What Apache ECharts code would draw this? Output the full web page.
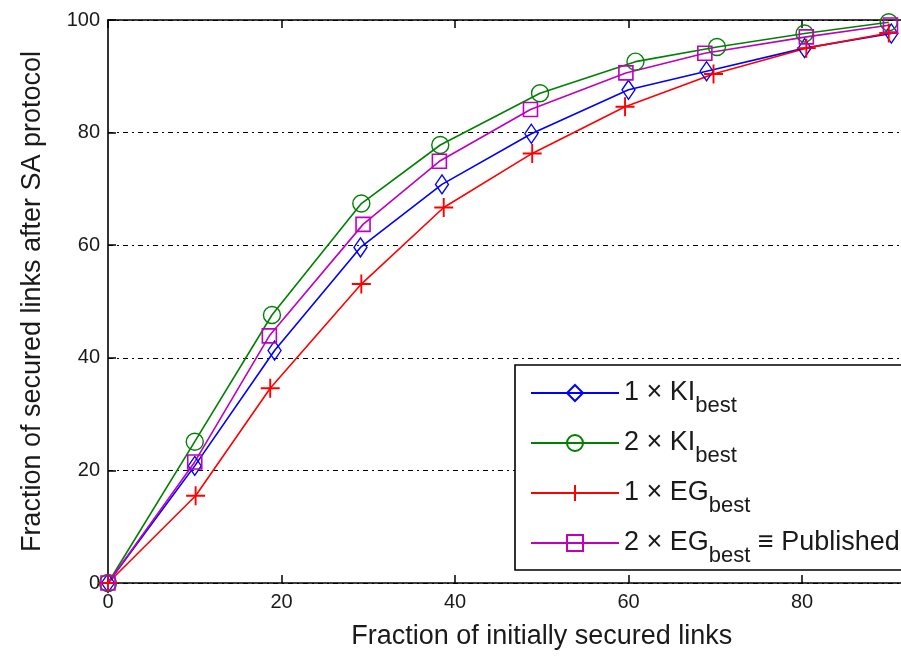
<!DOCTYPE html>
<html>
<head>
<meta charset="utf-8">
<script src="https://cdn.jsdelivr.net/npm/echarts@6/dist/echarts.min.js"></script>
<style>html,body{margin:0;padding:0;background:#fff;}#c{width:901px;height:657px;}</style>
</head>
<body>
<div id="c"></div>
<script>
// ---- data ----
const xTicks = [0, 20, 40, 60, 80, 100];
const yTicks = [0, 20, 40, 60, 80, 100];
const seriesNames = ['1 × KI_best', '2 × KI_best', '1 × EG_best', '2 × EG_best ≡ Published'];
const xKI1 = [0, 10, 19.2, 29.1, 38.5, 48.8, 60, 69, 80.3, 90.3];
const yKI1 = [0, 20.8, 41.3, 59.6, 70.8, 79.8, 87.6, 90.9, 95.0, 97.6];
const xKI2 = [0, 10, 18.9, 29.2, 38.3, 49.8, 60.8, 70.2, 80.3, 90];
const yKI2 = [0, 25.1, 47.6, 67.4, 77.8, 87.0, 92.6, 95.2, 97.6, 99.6];
const xEG1 = [0, 10.1, 18.7, 29.2, 38.7, 48.9, 59.6, 69.8, 80.5, 90];
const yEG1 = [0, 15.5, 34.6, 53.1, 66.7, 76.3, 84.6, 90.4, 95.0, 97.7];
const xEG2 = [0, 10, 18.6, 29.4, 38.2, 48.7, 59.7, 68.8, 80.5, 90.2];
const yEG2 = [0, 21.5, 43.9, 63.7, 74.9, 84.1, 90.6, 94.1, 97.0, 99.1];

const FONT = "'Liberation Sans', Arial, sans-serif";
const TXT = '#1a1a1a';
const pair = (xs, ys) => xs.map((x, i) => [x, ys[i]]);

function mk(name, xs, ys, color, symbol, size, bw) {
  return {
    name: name, type: 'line', data: pair(xs, ys),
    symbol: symbol, symbolSize: size, showSymbol: true, clip: false,
    lineStyle: {color: color, width: 1.6},
    itemStyle: {color: 'rgba(0,0,0,0)', borderColor: color, borderWidth: bw},
    emphasis: {disabled: true}, silent: true, animation: false, z: 3
  };
}

const chart = echarts.init(document.getElementById('c'), null, {renderer: 'canvas'});
const axisLine = {show: true, lineStyle: {color: '#000', width: 1.6}};
const tick = {show: true, inside: true, length: 8, lineStyle: {color: '#000', width: 1.5}};
chart.setOption({
  animation: false,
  backgroundColor: '#fff',
  grid: {left: 108, top: 20, bottom: 74, right: -74.5, containLabel: false, outerBoundsMode: 'none'},
  graphic: [{
    type: 'rect', z: 3.5, silent: true,
    shape: {x: 515, y: 365, width: 520, height: 205},
    style: {fill: '#fff', stroke: '#000', lineWidth: 1.6}
  }],
  xAxis: [{
    type: 'value', min: xTicks[0], max: xTicks[xTicks.length - 1], interval: xTicks[1] - xTicks[0],
    position: 'bottom',
    axisLine: axisLine, axisTick: tick,
    axisLabel: {color: TXT, fontFamily: FONT, fontSize: 20, margin: 9},
    splitLine: {show: false},
    name: 'Fraction of initially secured links', nameLocation: 'middle', nameGap: 40,
    nameTextStyle: {color: TXT, fontFamily: FONT, fontSize: 27}
  }, {
    type: 'value', min: xTicks[0], max: xTicks[xTicks.length - 1], interval: xTicks[1] - xTicks[0],
    position: 'top',
    axisLine: axisLine, axisTick: tick,
    axisLabel: {show: false}, splitLine: {show: false}
  }],
  yAxis: [{
    type: 'value', min: yTicks[0], max: yTicks[yTicks.length - 1], interval: yTicks[1] - yTicks[0],
    axisLine: axisLine, axisTick: tick,
    axisLabel: {color: TXT, fontFamily: FONT, fontSize: 20, margin: 8},
    splitLine: {show: true, lineStyle: {color: '#000', width: 1.2, type: [5, 4, 2, 4]}},
    name: 'Fraction of secured links after SA protocol', nameLocation: 'middle', nameGap: 62,
    nameTextStyle: {color: TXT, fontFamily: FONT, fontSize: 27}
  }],
  legend: {
    orient: 'vertical', left: 515, top: 365, z: 5,
    backgroundColor: 'transparent', borderWidth: 0,
    padding: [4, 10, 5, 15],
    itemWidth: 88, itemHeight: 20, itemGap: 2,
    data: seriesNames,
    formatter: function (n) {
      const m = n.match(/^(.*?)_best(.*)$/);
      return '{m|' + m[1] + '}{s|best}' + (m[2] ? '{m|' + m[2] + '}' : '');
    },
    textStyle: {
      fontFamily: FONT, color: TXT, fontSize: 27,
      rich: {
        m: {fontFamily: FONT, fontSize: 27, color: TXT, lineHeight: 30, verticalAlign: 'middle'},
        s: {fontFamily: FONT, fontSize: 22, color: TXT, lineHeight: 22, padding: [26, 0, 0, 0], verticalAlign: 'middle'}
      }
    }
  },
  series: [
    mk(seriesNames[0], xKI1, yKI1, '#0000ff', 'diamond', [13, 19], 1.4),
    mk(seriesNames[1], xKI2, yKI2, '#008000', 'circle', 17, 1.4),
    mk(seriesNames[2], xEG1, yEG1, '#ff0000', 'path://M0,-10L0,10M-10,0L10,0', 19, 1.9),
    mk(seriesNames[3], xEG2, yEG2, '#bf00bf', 'rect', 14, 1.6)
  ]
});
</script>
</body>
</html>
